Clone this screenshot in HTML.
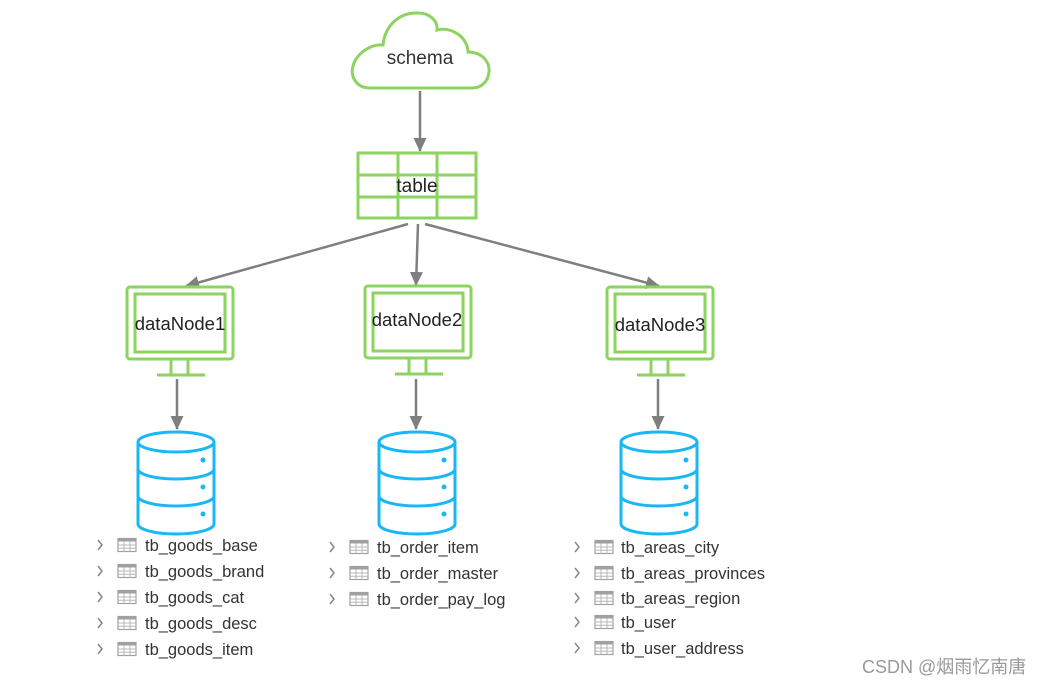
<!DOCTYPE html>
<html><head><meta charset="utf-8"><style>
html,body{margin:0;padding:0;background:#fff;}
svg{display:block;}
text{font-family:"Liberation Sans","DejaVu Sans",sans-serif;}
.lt{font-size:16.5px;fill:#333;}
</style></head><body>
<svg width="1050" height="685" viewBox="0 0 1050 685" xmlns="http://www.w3.org/2000/svg">
<defs>
<marker id="ah" markerWidth="14" markerHeight="14" refX="13" refY="6.5" orient="auto" markerUnits="userSpaceOnUse">
<path d="M0,0 L14,6.5 L0,13 z" fill="#7f7f7f"/></marker>
<g id="mon" fill="none" stroke="#8dd35f" stroke-width="3">
<rect x="0" y="0" width="106" height="72" rx="3"/>
<rect x="8" y="7" width="90" height="58"/>
<line x1="44" y1="72" x2="44" y2="87"/><line x1="61" y1="72" x2="61" y2="87"/>
<line x1="30" y1="88" x2="78" y2="88"/>
</g>
<g id="db" fill="none" stroke="#1ab7f5" stroke-width="3">
<path d="M0,10 A38,10 0 0 1 76,10 L76,92 A38,10 0 0 1 0,92 Z"/>
<path d="M0,10 A38,10 0 0 0 76,10"/>
<path d="M0,37 A38,10 0 0 0 76,37"/>
<path d="M0,64 A38,10 0 0 0 76,64"/>
<circle cx="65" cy="28" r="2.5" fill="#1ab7f5" stroke="none"/>
<circle cx="65" cy="55" r="2.5" fill="#1ab7f5" stroke="none"/>
<circle cx="65" cy="82" r="2.5" fill="#1ab7f5" stroke="none"/>
</g>
<g id="ic">
<path d="M0,-5 l4,5 l-4,5" fill="none" stroke="#888" stroke-width="1.5" transform="translate(-20,0)"/>
<rect x="0" y="-6.5" width="18" height="13" fill="#fff" stroke="#a0a0a0" stroke-width="1.2"/>
<rect x="0" y="-6.5" width="18" height="3" fill="#a0a0a0"/>
<path d="M6,-3.5 V6.5 M12,-3.5 V6.5 M0,0 H18 M0,3.3 H18" stroke="#b8b8b8" stroke-width="1"/>
</g>
</defs>
<!-- cloud -->
<path d="M370,88 C356,88 350,76 353,66 C357,52 372,44 383,45 C385,25 400,12 418,13 C430,13 438,21 437,30 C452,26 468,38 468,52 C482,52 490,62 489,72 C488,82 481,88 472,88 Z" fill="#fff" stroke="#8dd35f" stroke-width="3"/>
<text x="420" y="64" font-size="19" text-anchor="middle" fill="#333">schema</text>
<line x1="420" y1="91" x2="420" y2="151" stroke="#7f7f7f" stroke-width="2.5" marker-end="url(#ah)"/>
<!-- table -->
<g fill="none" stroke="#8dd35f" stroke-width="3">
<rect x="358" y="153" width="118" height="65"/>
<line x1="358" y1="175" x2="476" y2="175"/><line x1="358" y1="197" x2="476" y2="197"/>
<line x1="398" y1="153" x2="398" y2="218"/><line x1="437" y1="153" x2="437" y2="218"/>
</g>
<text x="417" y="192" font-size="19" text-anchor="middle" fill="#222">table</text>
<line x1="408" y1="224" x2="186" y2="286" stroke="#7f7f7f" stroke-width="2.5" marker-end="url(#ah)"/>
<line x1="418" y1="224" x2="416" y2="285" stroke="#7f7f7f" stroke-width="2.5" marker-end="url(#ah)"/>
<line x1="425" y1="224" x2="659" y2="286" stroke="#7f7f7f" stroke-width="2.5" marker-end="url(#ah)"/>
<!-- monitors -->
<use href="#mon" x="127" y="287"/>
<use href="#mon" x="365" y="286"/>
<use href="#mon" x="607" y="287"/>
<text x="180" y="330" font-size="18.5" text-anchor="middle" fill="#222">dataNode1</text>
<text x="417" y="326" font-size="18.5" text-anchor="middle" fill="#222">dataNode2</text>
<text x="660" y="331" font-size="18.5" text-anchor="middle" fill="#222">dataNode3</text>
<line x1="177" y1="379" x2="177" y2="429" stroke="#7f7f7f" stroke-width="2.5" marker-end="url(#ah)"/>
<line x1="416" y1="379" x2="416" y2="429" stroke="#7f7f7f" stroke-width="2.5" marker-end="url(#ah)"/>
<line x1="658" y1="379" x2="658" y2="429" stroke="#7f7f7f" stroke-width="2.5" marker-end="url(#ah)"/>
<!-- dbs -->
<use href="#db" x="138" y="432"/>
<use href="#db" x="379" y="432"/>
<use href="#db" x="621" y="432"/>
<!-- list 1 -->
<use href="#ic" x="118" y="545"/><use href="#ic" x="118" y="571"/><use href="#ic" x="118" y="597"/><use href="#ic" x="118" y="623"/><use href="#ic" x="118" y="649"/>
<text class="lt" x="145" y="551">tb_goods_base</text>
<text class="lt" x="145" y="577">tb_goods_brand</text>
<text class="lt" x="145" y="603">tb_goods_cat</text>
<text class="lt" x="145" y="629">tb_goods_desc</text>
<text class="lt" x="145" y="655">tb_goods_item</text>
<!-- list 2 -->
<use href="#ic" x="350" y="547"/><use href="#ic" x="350" y="573"/><use href="#ic" x="350" y="599"/>
<text class="lt" x="377" y="553">tb_order_item</text>
<text class="lt" x="377" y="579">tb_order_master</text>
<text class="lt" x="377" y="605">tb_order_pay_log</text>
<!-- list 3 -->
<use href="#ic" x="595" y="547"/><use href="#ic" x="595" y="573"/><use href="#ic" x="595" y="598"/><use href="#ic" x="595" y="622"/><use href="#ic" x="595" y="648"/>
<text class="lt" x="621" y="553">tb_areas_city</text>
<text class="lt" x="621" y="579">tb_areas_provinces</text>
<text class="lt" x="621" y="604">tb_areas_region</text>
<text class="lt" x="621" y="628">tb_user</text>
<text class="lt" x="621" y="654">tb_user_address</text>
<text x="862" y="673" font-size="18" fill="#999" style="font-family:'Liberation Sans','Noto Sans CJK SC',sans-serif">CSDN @烟雨忆南唐</text>
</svg>
</body></html>
